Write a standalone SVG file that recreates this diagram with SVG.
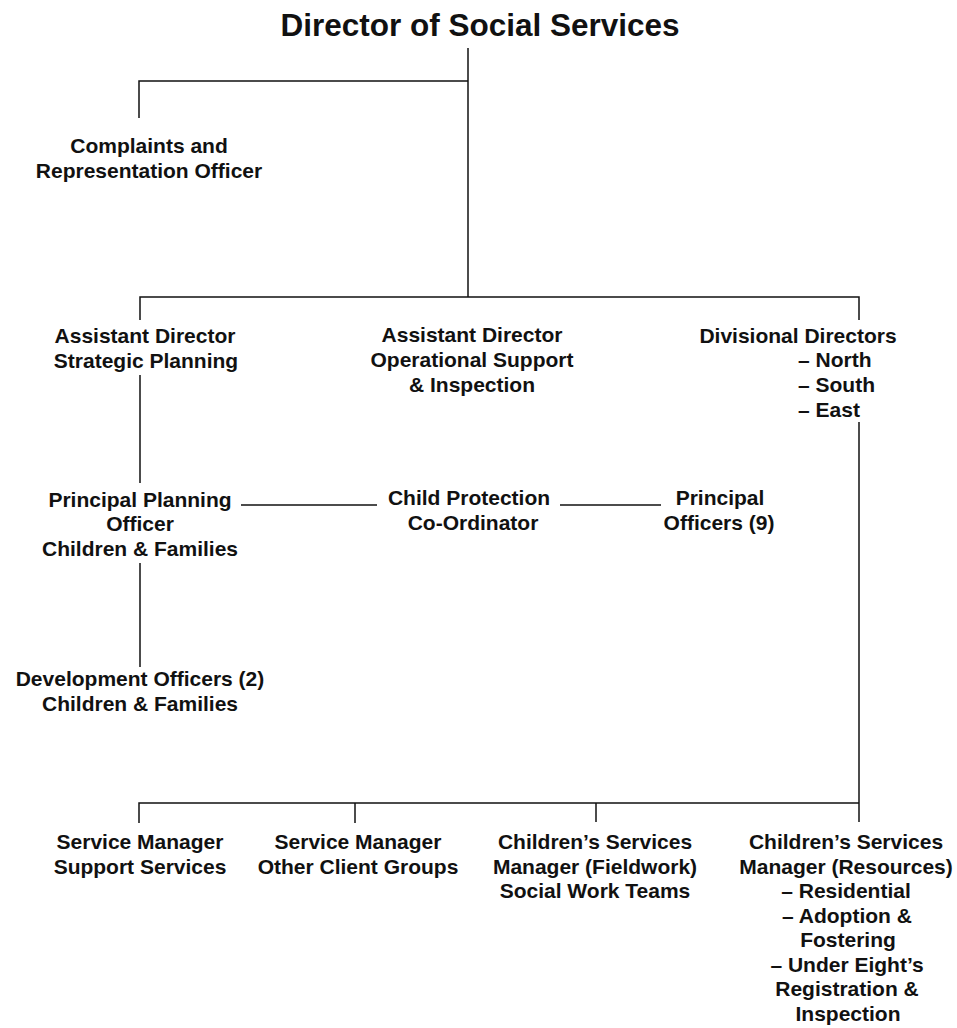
<svg xmlns="http://www.w3.org/2000/svg" width="957" height="1028" viewBox="0 0 957 1028">
<style>
  text { font-family: "Liberation Sans", Arial, sans-serif; font-weight: bold; font-size: 21px; fill: #111; text-anchor: middle; }
  .title { font-size: 31.5px; }
  .start { text-anchor: start; }
  #connectors line, #connectors path { stroke: #111; stroke-width: 1.5; fill: none; }
</style>
<rect width="957" height="1028" fill="#fff"/>
<g id="connectors">
  <path d="M468,48 V297"/>
  <path d="M139,118 V81 H468"/>
  <path d="M140,320 V297 H859 V320"/>
  <path d="M140,375 V483"/>
  <path d="M140,563 V667"/>
  <line x1="241" y1="505" x2="377" y2="505"/>
  <line x1="560" y1="505" x2="661" y2="505"/>
  <path d="M859,422 V822"/>
  <path d="M139,823 V803 H859"/>
  <line x1="355" y1="803" x2="355" y2="823"/>
  <line x1="596" y1="803" x2="596" y2="822"/>
</g>
<g id="director"><text class="title" x="480" y="36">Director of Social Services</text></g>
<g id="complaints">
  <text x="149" y="153">Complaints and</text>
  <text x="149" y="178">Representation Officer</text>
</g>
<g id="ad-strategic">
  <text x="145" y="343">Assistant Director</text>
  <text x="146" y="368">Strategic Planning</text>
</g>
<g id="ad-operational">
  <text x="472" y="342">Assistant Director</text>
  <text x="472" y="367">Operational Support</text>
  <text x="472" y="392">&amp; Inspection</text>
</g>
<g id="divisional">
  <text x="798" y="343">Divisional Directors</text>
  <text class="start" x="798" y="367">– North</text>
  <text class="start" x="798" y="392">– South</text>
  <text class="start" x="798" y="417">– East</text>
</g>
<g id="principal-planning">
  <text x="140" y="507">Principal Planning</text>
  <text x="140" y="531">Officer</text>
  <text x="140" y="556">Children &amp; Families</text>
</g>
<g id="child-protection">
  <text x="469" y="505">Child Protection</text>
  <text x="473" y="530">Co-Ordinator</text>
</g>
<g id="principal-officers">
  <text x="720" y="505">Principal</text>
  <text x="719" y="530">Officers (9)</text>
</g>
<g id="development">
  <text x="140" y="686">Development Officers (2)</text>
  <text x="140" y="711">Children &amp; Families</text>
</g>
<g id="sm-support">
  <text x="140" y="849">Service Manager</text>
  <text x="140" y="874">Support Services</text>
</g>
<g id="sm-other">
  <text x="358" y="849">Service Manager</text>
  <text x="358" y="874">Other Client Groups</text>
</g>
<g id="csm-fieldwork">
  <text x="595" y="849">Children’s Services</text>
  <text x="595" y="873.5">Manager (Fieldwork)</text>
  <text x="595" y="898">Social Work Teams</text>
</g>
<g id="csm-resources">
  <text x="846" y="849">Children’s Services</text>
  <text x="846" y="873.5">Manager (Resources)</text>
  <text x="846" y="898">– Residential</text>
  <text x="847" y="922.5">– Adoption &amp;</text>
  <text x="848" y="947">Fostering</text>
  <text x="847" y="971.5">– Under Eight’s</text>
  <text x="847" y="996">Registration &amp;</text>
  <text x="848" y="1020.5">Inspection</text>
</g>
</svg>
